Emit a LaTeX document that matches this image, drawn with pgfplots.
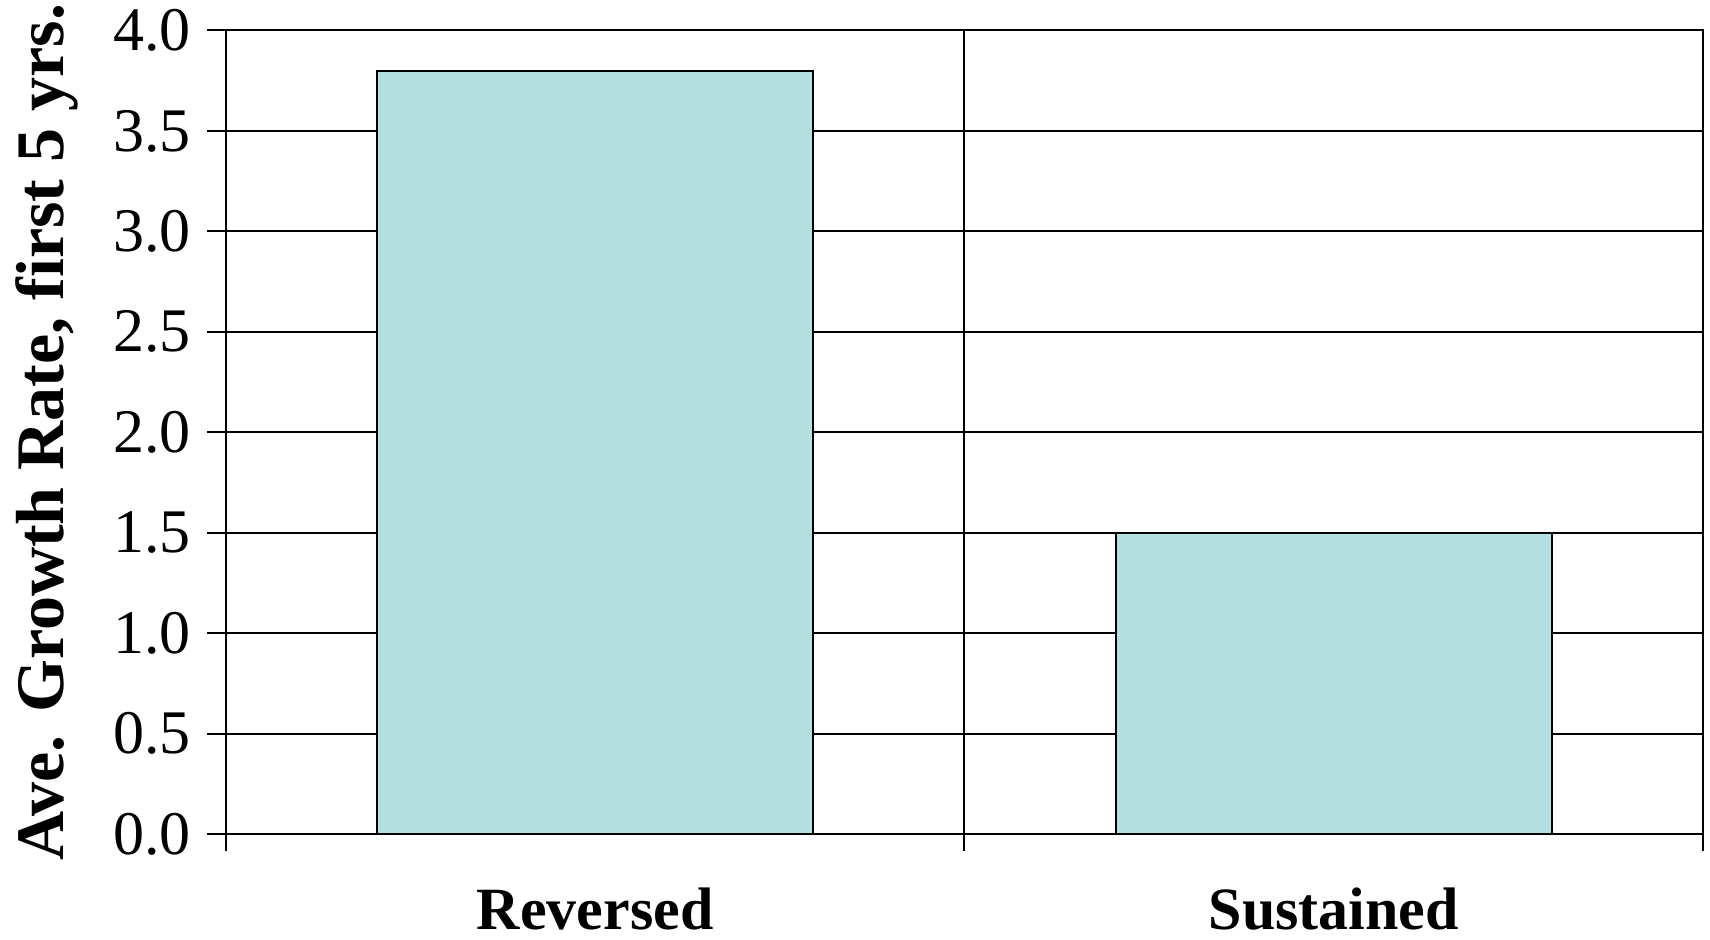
\documentclass[border=0pt]{standalone}
\usepackage{fontspec}
\setmainfont{Liberation Serif}
\usepackage{pgfplots}
\pgfplotsset{compat=1.18}

\definecolor{barfill}{RGB}{180,224,226}

\begin{document}
\begin{tikzpicture}
% fixed page frame around the axis box
\path[use as bounding box] (-113pt,-53pt) rectangle (742pt,417pt);
\begin{axis}[
  at={(0,0)}, anchor=south west,
  scale only axis,
  width=738.5pt, height=401.75pt,
  xmin=0, xmax=2, ymin=0, ymax=4,
  axis line style={line width=1pt},
  every tick/.style={line width=1pt, black},
  tick align=outside,
  tick pos=left,
  major tick length=9.5pt,
  xtick={0.5,1.5},
  xticklabels={Reversed,Sustained},
  xtick style={draw=none},
  extra x ticks={0,1,2},
  extra x tick labels={},
  extra x tick style={grid=major, major tick length=8.5pt, xtick style={draw=black}, tick pos=left},
  ytick={0,0.5,...,4},
  ymajorgrids,
  grid style={line width=1pt, black},
  /pgf/number format/assume math mode=true,
  yticklabel={\pgfmathprintnumber[fixed,fixed zerofill,precision=1]{\tick}},
  yticklabel style={font=\fontsize{31}{36}\selectfont, anchor=east, xshift=-4.5pt},
  xticklabel style={font=\bfseries\fontsize{30}{36}\selectfont, anchor=base, inner sep=0pt, yshift=-38.5pt},
  ylabel={Ave. Growth Rate, first 5 yrs.},
  ylabel style={font=\bfseries\fontsize{34}{40}\selectfont, at={(axis description cs:0,0.5)}, anchor=south, yshift=70.5pt},
  ybar, bar width=0.59,
  clip=false,
]
\addplot[fill=barfill, draw=black, line width=1pt, bar shift=0pt] coordinates {(0.5,3.8) (1.5,1.5)};
\end{axis}
\end{tikzpicture}
\end{document}
